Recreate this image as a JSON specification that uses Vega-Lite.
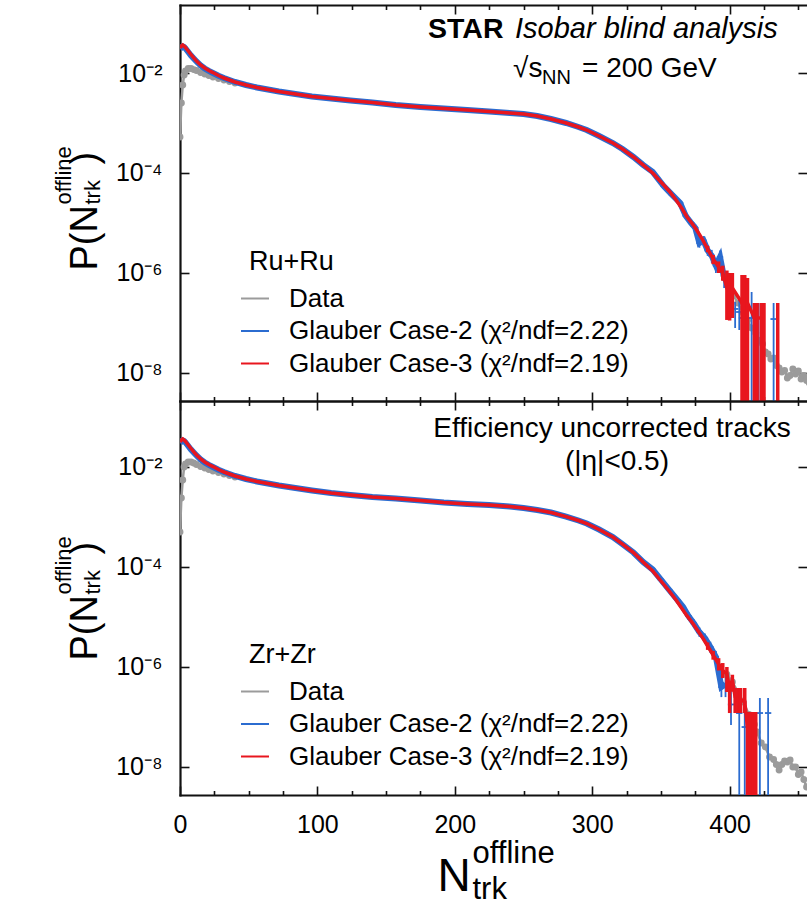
{
  "$schema": "https://vega.github.io/schema/vega-lite/v6.json",
  "background": "white",
  "padding": {"left": 0, "top": 4, "right": 0, "bottom": 0},
  "bounds": "flush",
  "spacing": 0,
  "datasets": {
    "ru_data": [
      {"n":0,"v":5.25e-4},{"n":1,"v":2.51e-3},{"n":2,"v":5.75e-3},{"n":3,"v":9.12e-3},{"n":4,"v":1.10e-2},{"n":6,"v":1.23e-2},{"n":8,"v":1.23e-2},{"n":10,"v":1.17e-2},{"n":12,"v":1.12e-2},{"n":15,"v":1.02e-2},{"n":18,"v":9.55e-3},{"n":21,"v":8.91e-3},{"n":24,"v":8.32e-3},{"n":28,"v":7.76e-3},{"n":32,"v":7.24e-3},{"n":36,"v":6.76e-3},{"n":40,"v":6.31e-3},{"n":48,"v":5.75e-3},
      {"n":56,"v":5.13e-3},{"n":64,"v":4.68e-3},{"n":72,"v":4.27e-3},{"n":84,"v":3.80e-3},{"n":96,"v":3.39e-3},{"n":110,"v":3.09e-3},{"n":124,"v":2.82e-3},{"n":140,"v":2.57e-3},{"n":157,"v":2.29e-3},{"n":175,"v":2.09e-3},{"n":192,"v":1.95e-3},{"n":209,"v":1.82e-3},{"n":225,"v":1.70e-3},{"n":240,"v":1.58e-3},{"n":250,"v":1.51e-3},{"n":260,"v":1.38e-3},{"n":270,"v":1.20e-3},{"n":281,"v":1.0e-3},{"n":290,"v":8.32e-4},{"n":296,"v":7.24e-4},{"n":305,"v":5.50e-4},{"n":315,"v":3.98e-4},{"n":322,"v":3.02e-4},{"n":330,"v":2.09e-4},{"n":337,"v":1.45e-4},{"n":344,"v":1.0e-4},{"n":350,"v":6.61e-5},{"n":356,"v":4.37e-5},{"n":361,"v":2.88e-5},{"n":365,"v":2.0e-5},{"n":369,"v":1.32e-5},{"n":373,"v":9.55e-6},{"n":376,"v":7.24e-6},{"n":380,"v":4.79e-6},{"n":384,"v":3.02e-6},{"n":388,"v":1.91e-6},{"n":392,"v":1.32e-6},
      {"n":396,"v":8.91e-7},{"n":400,"v":5.01e-7},{"n":403,"v":3.55e-7},{"n":406,"v":2.51e-7},{"n":410,"v":1.58e-7},{"n":413,"v":1.12e-7},{"n":416,"v":7.94e-8},{"n":419,"v":6.31e-8},{"n":422,"v":4.47e-8},{"n":424,"v":3.80e-8},{"n":426,"v":2.63e-8},{"n":428,"v":2.40e-8},{"n":430,"v":1.91e-8},{"n":432,"v":2.0e-8},{"n":434,"v":1.41e-8},{"n":436,"v":1.26e-8},{"n":438,"v":1.05e-8},{"n":440,"v":1.12e-8},{"n":442,"v":7.94e-9},{"n":444,"v":8.91e-9},{"n":446,"v":1.2e-8},{"n":448,"v":9.55e-9},{"n":450,"v":1.10e-8},{"n":452,"v":7.59e-9},{"n":454,"v":8.91e-9},{"n":456,"v":7.08e-9},{"n":458,"v":6.3e-9}
    ],
    "ru_c2": [
      {"n":0,"v":3.02e-2},{"n":1,"v":3.24e-2},{"n":2,"v":3.39e-2},{"n":3,"v":3.31e-2},{"n":4,"v":3.09e-2},{"n":6,"v":2.63e-2},{"n":8,"v":2.24e-2},{"n":10,"v":1.95e-2},{"n":12,"v":1.70e-2},{"n":15,"v":1.42e-2},{"n":18,"v":1.23e-2},{"n":21,"v":1.10e-2},{"n":24,"v":1.0e-2},{"n":28,"v":8.8e-3},
      {"n":32,"v":7.94e-3},{"n":36,"v":7.24e-3},{"n":40,"v":6.61e-3},{"n":48,"v":5.75e-3},{"n":56,"v":5.13e-3},{"n":64,"v":4.68e-3},{"n":72,"v":4.27e-3},{"n":84,"v":3.80e-3},{"n":96,"v":3.39e-3},{"n":110,"v":3.09e-3},{"n":124,"v":2.82e-3},{"n":140,"v":2.57e-3},{"n":157,"v":2.29e-3},{"n":175,"v":2.09e-3},{"n":192,"v":1.95e-3},{"n":209,"v":1.82e-3},{"n":225,"v":1.70e-3},{"n":240,"v":1.58e-3},{"n":250,"v":1.51e-3},{"n":260,"v":1.38e-3},{"n":270,"v":1.20e-3},{"n":281,"v":1.0e-3},{"n":290,"v":8.32e-4},{"n":296,"v":7.24e-4},{"n":305,"v":5.50e-4},{"n":315,"v":3.98e-4},{"n":322,"v":3.02e-4},{"n":330,"v":2.09e-4},{"n":337,"v":1.45e-4},
      {"n":344,"v":1.05e-4,"lo":9.5e-5,"hi":1.15e-4},{"n":352,"v":5.5e-5,"lo":4.9e-5,"hi":6.1e-5},{"n":358,"v":3.7e-5,"lo":3.2e-5,"hi":4.2e-5},{"n":364,"v":2.51e-5,"lo":2.2e-5,"hi":2.9e-5},{"n":368,"v":1.4e-5,"lo":1.2e-5,"hi":1.65e-5},{"n":372,"v":1.0e-5,"lo":8.5e-6,"hi":1.2e-5},{"n":375,"v":8.0e-6,"lo":6.6e-6,"hi":9.6e-6},{"n":378,"v":3.98e-6,"lo":3.2e-6,"hi":5.0e-6},{"n":381,"v":4.47e-6,"lo":3.6e-6,"hi":5.5e-6},{"n":384,"v":2.82e-6,"lo":2.2e-6,"hi":3.6e-6},{"n":387,"v":2.2e-6,"lo":1.6e-6,"hi":2.9e-6},{"n":390,"v":1.41e-6,"lo":1.0e-6,"hi":1.9e-6},{"n":393,"v":2.09e-6,"lo":1.41e-6,"hi":2.82e-6},{"n":396,"v":7.94e-7,"lo":5e-7,"hi":1.15e-6},{"n":399,"v":6.31e-7,"lo":3.8e-7,"hi":9e-7},{"n":404,"v":1.91e-7,"lo":7.94e-8,"hi":2.63e-7},{"n":407,"v":1.66e-7,"lo":7.24e-8,"hi":3.31e-7},{"n":409,"v":1.26e-7,"lo":1e-10,"hi":4.17e-7},{"n":416,"v":1.26e-7,"lo":1e-10,"hi":4.17e-7},{"n":421,"v":1.26e-7,"lo":1e-10,"hi":2.51e-7},{"n":432,"v":1.2e-7,"lo":1e-10,"hi":2.51e-7}
    ],
    "ru_c3": [
      {"n":0,"v":3.16e-2},{"n":1,"v":3.47e-2},{"n":2,"v":3.63e-2},{"n":3,"v":3.47e-2},{"n":4,"v":3.24e-2},{"n":6,"v":2.75e-2},{"n":8,"v":2.34e-2},{"n":10,"v":2.0e-2},{"n":12,"v":1.74e-2},{"n":15,"v":1.45e-2},{"n":18,"v":1.26e-2},{"n":21,"v":1.12e-2},{"n":24,"v":1.02e-2},{"n":28,"v":8.91e-3},{"n":32,"v":7.94e-3},{"n":36,"v":7.24e-3},{"n":40,"v":6.61e-3},{"n":48,"v":5.75e-3},
      {"n":56,"v":5.13e-3},{"n":64,"v":4.68e-3},{"n":72,"v":4.27e-3},{"n":84,"v":3.80e-3},{"n":96,"v":3.39e-3},{"n":110,"v":3.09e-3},{"n":124,"v":2.82e-3},{"n":140,"v":2.57e-3},{"n":157,"v":2.29e-3},{"n":175,"v":2.09e-3},{"n":192,"v":1.95e-3},{"n":209,"v":1.82e-3},{"n":225,"v":1.70e-3},{"n":240,"v":1.58e-3},{"n":250,"v":1.51e-3},{"n":260,"v":1.38e-3},{"n":270,"v":1.20e-3},{"n":281,"v":1.0e-3},{"n":290,"v":8.32e-4},{"n":296,"v":7.24e-4},{"n":305,"v":5.50e-4},{"n":315,"v":3.98e-4},{"n":322,"v":3.02e-4},{"n":330,"v":2.09e-4},{"n":337,"v":1.45e-4},{"n":344,"v":1.0e-4},{"n":350,"v":6.61e-5},{"n":356,"v":4.37e-5},{"n":361,"v":2.88e-5},{"n":365,"v":2.0e-5},{"n":369,"v":1.32e-5},{"n":373,"v":9.55e-6},{"n":376,"v":7.24e-6},{"n":380,"v":4.79e-6},
      {"n":384,"v":3.02e-6,"lo":2.6e-6,"hi":3.5e-6},{"n":388,"v":1.91e-6,"lo":1.5e-6,"hi":2.3e-6},{"n":392,"v":1.32e-6,"lo":1.0e-6,"hi":1.7e-6},{"n":395,"v":1.0e-6,"lo":7e-7,"hi":1.4e-6},{"n":398,"v":5.01e-7,"lo":1.15e-7,"hi":1.12e-6},{"n":400,"v":3.98e-7,"lo":1.12e-7,"hi":1.0e-6},{"n":402,"v":5.01e-7,"lo":1.26e-7,"hi":1.0e-6},{"n":409,"v":2.51e-7,"lo":1e-10,"hi":9.12e-7},{"n":411,"v":2.51e-7,"lo":1e-10,"hi":9.12e-7},{"n":413,"v":2.51e-7,"lo":1e-10,"hi":7.94e-7},{"n":418,"v":1.26e-7,"lo":1e-10,"hi":2.51e-7},{"n":420,"v":1.26e-7,"lo":1e-10,"hi":2.51e-7},{"n":423,"v":1.26e-7,"lo":1e-10,"hi":2.51e-7},{"n":425,"v":1.26e-7,"lo":1e-10,"hi":2.51e-7},{"n":435,"v":1.26e-7,"lo":1e-10,"hi":2.51e-7}
    ],
    "zr_data": [
      {"n":0,"v":5.01e-4},{"n":1,"v":2.40e-3},{"n":2,"v":5.50e-3},{"n":3,"v":1.0e-2},{"n":4,"v":1.15e-2},{"n":6,"v":1.26e-2},{"n":8,"v":1.26e-2},{"n":10,"v":1.20e-2},{"n":12,"v":1.12e-2},{"n":15,"v":1.02e-2},{"n":18,"v":9.55e-3},{"n":21,"v":8.91e-3},{"n":24,"v":8.32e-3},{"n":28,"v":7.76e-3},{"n":32,"v":7.24e-3},{"n":36,"v":6.76e-3},{"n":40,"v":6.31e-3},{"n":48,"v":5.75e-3},
      {"n":56,"v":5.13e-3},{"n":64,"v":4.68e-3},{"n":72,"v":4.27e-3},{"n":84,"v":3.80e-3},{"n":96,"v":3.39e-3},{"n":110,"v":3.02e-3},{"n":124,"v":2.75e-3},{"n":140,"v":2.51e-3},{"n":157,"v":2.34e-3},{"n":175,"v":2.14e-3},{"n":192,"v":1.95e-3},{"n":209,"v":1.82e-3},{"n":225,"v":1.74e-3},{"n":240,"v":1.62e-3},{"n":250,"v":1.51e-3},{"n":260,"v":1.38e-3},{"n":270,"v":1.23e-3},{"n":281,"v":1.02e-3},{"n":290,"v":8.51e-4},{"n":296,"v":7.41e-4},{"n":305,"v":5.62e-4},{"n":315,"v":3.98e-4},{"n":322,"v":2.88e-4},{"n":330,"v":1.95e-4},{"n":337,"v":1.26e-4},{"n":344,"v":8.32e-5},{"n":350,"v":5.25e-5},{"n":356,"v":3.31e-5},{"n":361,"v":2.19e-5},{"n":365,"v":1.51e-5},{"n":369,"v":1.05e-5},{"n":373,"v":7.59e-6},{"n":376,"v":5.75e-6},{"n":380,"v":3.98e-6},{"n":384,"v":2.63e-6},{"n":388,"v":1.74e-6},{"n":392,"v":1.15e-6},{"n":395,"v":8.51e-7},
      {"n":398,"v":7.08e-7},{"n":402,"v":5.01e-7},{"n":406,"v":3.16e-7},{"n":410,"v":2.0e-7},{"n":414,"v":1.12e-7},{"n":418,"v":7.08e-8},{"n":420,"v":5.01e-8},{"n":423,"v":3.02e-8},{"n":426,"v":2.51e-8},{"n":429,"v":1.58e-8},{"n":432,"v":1.41e-8},{"n":434,"v":1.12e-8},{"n":436,"v":8.71e-9},{"n":438,"v":1.12e-8},{"n":440,"v":1.32e-8},{"n":442,"v":1.26e-8},{"n":444,"v":1.38e-8},{"n":446,"v":1.0e-8},{"n":448,"v":1.0e-8},{"n":450,"v":7.08e-9},{"n":452,"v":7.94e-9},{"n":454,"v":5.62e-9},{"n":456,"v":3.98e-9},{"n":458,"v":3.98e-9}
    ],
    "zr_c2": [
      {"n":0,"v":3.02e-2},{"n":1,"v":3.24e-2},{"n":2,"v":3.39e-2},{"n":3,"v":3.31e-2},{"n":4,"v":3.09e-2},{"n":6,"v":2.63e-2},{"n":8,"v":2.24e-2},{"n":10,"v":1.95e-2},{"n":12,"v":1.70e-2},{"n":15,"v":1.42e-2},{"n":18,"v":1.23e-2},{"n":21,"v":1.10e-2},{"n":24,"v":1.0e-2},{"n":28,"v":8.8e-3},
      {"n":32,"v":7.94e-3},{"n":36,"v":7.24e-3},{"n":40,"v":6.61e-3},{"n":48,"v":5.75e-3},{"n":56,"v":5.13e-3},{"n":64,"v":4.68e-3},{"n":72,"v":4.27e-3},{"n":84,"v":3.80e-3},{"n":96,"v":3.39e-3},{"n":110,"v":3.02e-3},{"n":124,"v":2.75e-3},{"n":140,"v":2.51e-3},{"n":157,"v":2.34e-3},{"n":175,"v":2.14e-3},{"n":192,"v":1.95e-3},{"n":209,"v":1.82e-3},{"n":225,"v":1.74e-3},{"n":240,"v":1.62e-3},{"n":250,"v":1.51e-3},{"n":260,"v":1.38e-3},{"n":270,"v":1.23e-3},{"n":281,"v":1.02e-3},{"n":290,"v":8.51e-4},{"n":296,"v":7.41e-4},{"n":305,"v":5.62e-4},{"n":315,"v":3.98e-4},{"n":322,"v":2.88e-4},{"n":330,"v":1.95e-4},{"n":337,"v":1.26e-4},
      {"n":344,"v":8.9e-5,"lo":8.2e-5,"hi":9.6e-5},{"n":350,"v":5.6e-5,"lo":5.1e-5,"hi":6.1e-5},{"n":356,"v":3.5e-5,"lo":3.1e-5,"hi":3.9e-5},{"n":362,"v":2.2e-5,"lo":1.9e-5,"hi":2.5e-5},{"n":366,"v":1.6e-5,"lo":1.35e-5,"hi":1.85e-5},{"n":370,"v":1.05e-5,"lo":8.8e-6,"hi":1.25e-5},{"n":374,"v":7.4e-6,"lo":6.0e-6,"hi":8.9e-6},{"n":378,"v":5.0e-6,"lo":4.0e-6,"hi":6.2e-6},{"n":382,"v":3.8e-6,"lo":3.0e-6,"hi":4.7e-6},{"n":386,"v":2.5e-6,"lo":1.9e-6,"hi":3.2e-6},{"n":390,"v":1.58e-6,"lo":1.2e-6,"hi":2.1e-6},{"n":394,"v":3.98e-7,"lo":2.5e-7,"hi":5.5e-7},{"n":397,"v":4.5e-7,"lo":2.5e-7,"hi":6.3e-7},{"n":401,"v":1.78e-7,"lo":6.9e-8,"hi":3.98e-7},{"n":407,"v":1.2e-7,"lo":1e-10,"hi":2.0e-7},{"n":411,"v":6.3e-8,"lo":1e-10,"hi":1.26e-7},{"n":422,"v":1.2e-7,"lo":1e-10,"hi":2.4e-7},{"n":428,"v":1.2e-7,"lo":1e-10,"hi":2.4e-7}
    ],
    "zr_c3": [
      {"n":0,"v":3.16e-2},{"n":1,"v":3.47e-2},{"n":2,"v":3.63e-2},{"n":3,"v":3.47e-2},{"n":4,"v":3.24e-2},{"n":6,"v":2.75e-2},{"n":8,"v":2.34e-2},{"n":10,"v":2.0e-2},{"n":12,"v":1.74e-2},{"n":15,"v":1.45e-2},{"n":18,"v":1.26e-2},{"n":21,"v":1.12e-2},{"n":24,"v":1.02e-2},{"n":28,"v":8.91e-3},{"n":32,"v":7.94e-3},{"n":36,"v":7.24e-3},{"n":40,"v":6.61e-3},{"n":48,"v":5.75e-3},
      {"n":56,"v":5.13e-3},{"n":64,"v":4.68e-3},{"n":72,"v":4.27e-3},{"n":84,"v":3.80e-3},{"n":96,"v":3.39e-3},{"n":110,"v":3.02e-3},{"n":124,"v":2.75e-3},{"n":140,"v":2.51e-3},{"n":157,"v":2.34e-3},{"n":175,"v":2.14e-3},{"n":192,"v":1.95e-3},{"n":209,"v":1.82e-3},{"n":225,"v":1.74e-3},{"n":240,"v":1.62e-3},{"n":250,"v":1.51e-3},{"n":260,"v":1.38e-3},{"n":270,"v":1.23e-3},{"n":281,"v":1.02e-3},{"n":290,"v":8.51e-4},{"n":296,"v":7.41e-4},{"n":305,"v":5.62e-4},{"n":315,"v":3.98e-4},{"n":322,"v":2.88e-4},{"n":330,"v":1.95e-4},{"n":337,"v":1.26e-4},{"n":344,"v":8.32e-5},{"n":350,"v":5.25e-5},{"n":356,"v":3.31e-5},{"n":361,"v":2.19e-5},{"n":365,"v":1.51e-5},{"n":369,"v":1.05e-5},{"n":373,"v":7.59e-6},{"n":376,"v":5.75e-6},{"n":380,"v":3.98e-6},
      {"n":384,"v":2.63e-6,"lo":2.2e-6,"hi":3.1e-6},{"n":388,"v":1.74e-6,"lo":1.4e-6,"hi":2.1e-6},{"n":392,"v":1.15e-6,"lo":8.5e-7,"hi":1.5e-6},{"n":395,"v":8.51e-7,"lo":6e-7,"hi":1.2e-6},{"n":398,"v":7.24e-7,"lo":3.16e-7,"hi":1.0e-6},{"n":400,"v":3.8e-7,"lo":1.2e-7,"hi":5.0e-7},{"n":402,"v":5.5e-7,"lo":3.2e-7,"hi":7.0e-7},{"n":404,"v":2.51e-7,"lo":1.2e-7,"hi":3.8e-7},{"n":406,"v":2.0e-7,"lo":1.2e-7,"hi":3.8e-7},{"n":408,"v":2.24e-7,"lo":1.2e-7,"hi":3.8e-7},{"n":411,"v":2.0e-7,"lo":1.2e-7,"hi":3.8e-7},{"n":413,"v":6.31e-8,"lo":1e-10,"hi":1.26e-7},{"n":415,"v":6.31e-8,"lo":1e-10,"hi":1.26e-7},{"n":417,"v":6.31e-8,"lo":1e-10,"hi":1.26e-7},{"n":419,"v":6.31e-8,"lo":1e-10,"hi":1.26e-7}
    ]
  },
  "vconcat": [
    {
      "width": 627,
      "height": 396,
      "resolve": {"axis": {"x": "independent", "y": "independent"}},
      "layer": [
        {
          "data": {"name": "ru_data"},
          "mark": {"type": "line", "strokeWidth": 2.5, "clip": true},
          "encoding": {
            "x": {"field": "n", "type": "quantitative", "scale": {"domain": [0, 456.3], "nice": false, "zero": false},
                  "axis": {"orient": "bottom", "values": [0, 100, 200, 300, 400], "tickSize": -9, "labels": false, "domain": true, "title": null}},
            "y": {"field": "v", "type": "quantitative", "scale": {"type": "log", "domain": [2.754e-9, 0.2291], "nice": false},
                  "axis": {"orient": "left", "values": [0.01, 0.0001, 0.000001, 1e-8], "tickSize": -9, "labelPadding": 27, "domain": true,
                           "labelExpr": "datum.value > 1e-3 ? '10⁻²' : datum.value > 1e-5 ? '10⁻⁴' : datum.value > 1e-7 ? '10⁻⁶' : '10⁻⁸'",
                           "title": "P(N", "titleX": -84, "titleY": 265, "titleAngle": -90, "titleAlign": "left", "titleBaseline": "alphabetic", "titleFontSize": 38}},
            "color": {"datum": "Data", "type": "nominal",
                      "scale": {"domain": ["Data", "Glauber Case-2 (χ²/ndf=2.22)", "Glauber Case-3 (χ²/ndf=2.19)"], "range": ["#9b9b9b", "#2b6cd0", "#e8161e"]},
                      "legend": {"title": "Ru+Ru", "orient": "none", "legendX": 69, "legendY": 244}}
          }
        },
        {
          "data": {"name": "ru_data"},
          "transform": [{"filter": "datum.n < 48 || datum.n > 395"}],
          "mark": {"type": "circle", "size": 48, "color": "#9b9b9b", "opacity": 1, "clip": true},
          "encoding": {
            "x": {"field": "n", "type": "quantitative", "scale": {"domain": [0, 456.3], "nice": false, "zero": false},
                  "axis": {"orient": "bottom", "values": [25, 50, 75, 125, 150, 175, 225, 250, 275, 325, 350, 375, 425, 450], "tickSize": -4.5, "labels": false, "domain": false, "title": null}},
            "y": {"field": "v", "type": "quantitative", "scale": {"type": "log", "domain": [2.754e-9, 0.2291], "nice": false},
                  "axis": {"orient": "right", "values": [0.01, 0.0001, 0.000001, 1e-8], "tickSize": -9, "labels": false, "domain": false, "title": null}}
          }
        },
        {
          "data": {"name": "ru_c2"},
          "transform": [{"filter": "datum.n <= 400"}],
          "mark": {"type": "line", "strokeWidth": 6, "clip": true},
          "encoding": {
            "x": {"field": "n", "type": "quantitative", "scale": {"domain": [0, 456.3], "nice": false, "zero": false},
                  "axis": {"orient": "top", "values": [0, 100, 200, 300, 400], "tickSize": -9, "labels": false, "domain": true, "title": null}},
            "y": {"field": "v", "type": "quantitative", "scale": {"type": "log", "domain": [2.754e-9, 0.2291], "nice": false},
                  "axis": {"orient": "left", "ticks": false, "labels": false, "domain": false, "title": "offline", "titleX": -110, "titleY": 199, "titleAngle": -90, "titleAlign": "left", "titleBaseline": "alphabetic", "titleFontSize": 22}},
            "color": {"datum": "Glauber Case-2 (χ²/ndf=2.22)", "type": "nominal",
                      "legend": {"title": "Ru+Ru", "orient": "none", "legendX": 69, "legendY": 244}}
          }
        },
        {
          "data": {"name": "ru_c2"},
          "transform": [{"filter": "isValid(datum.lo)"}],
          "mark": {"type": "rule", "color": "#2b6cd0", "strokeWidth": 1.8, "clip": true},
          "encoding": {
            "x": {"field": "n", "type": "quantitative", "scale": {"domain": [0, 456.3], "nice": false, "zero": false},
                  "axis": {"orient": "top", "values": [25, 50, 75, 125, 150, 175, 225, 250, 275, 325, 350, 375, 425, 450], "tickSize": -4.5, "labels": false, "domain": false, "title": null}},
            "y": {"field": "lo", "type": "quantitative", "scale": {"type": "log", "domain": [2.754e-9, 0.2291], "nice": false},
                  "axis": {"orient": "left", "ticks": false, "labels": false, "domain": false, "title": "trk", "titleX": -81, "titleY": 199, "titleAngle": -90, "titleAlign": "left", "titleBaseline": "alphabetic", "titleFontSize": 22}},
            "y2": {"field": "hi"}
          }
        },
        {
          "data": {"name": "ru_c2"},
          "transform": [{"filter": "isValid(datum.lo)"}],
          "mark": {"type": "point", "shape": "M-1,0L1,0", "size": 40, "filled": false, "color": "#2b6cd0", "strokeWidth": 1.8, "opacity": 1, "clip": true},
          "encoding": {
            "x": {"field": "n", "type": "quantitative", "scale": {"domain": [0, 456.3], "nice": false, "zero": false}, "axis": null},
            "y": {"field": "v", "type": "quantitative", "scale": {"type": "log", "domain": [2.754e-9, 0.2291], "nice": false},
                  "axis": {"orient": "left", "ticks": false, "labels": false, "domain": false, "title": ")", "titleX": -84, "titleY": 159, "titleAngle": -90, "titleAlign": "left", "titleBaseline": "alphabetic", "titleFontSize": 38}}
          }
        },
        {
          "data": {"name": "ru_c3"},
          "transform": [{"filter": "datum.n <= 425"}],
          "mark": {"type": "line", "strokeWidth": 3.5, "clip": true},
          "encoding": {
            "x": {"field": "n", "type": "quantitative", "scale": {"domain": [0, 456.3], "nice": false, "zero": false}, "axis": null},
            "y": {"field": "v", "type": "quantitative", "scale": {"type": "log", "domain": [2.754e-9, 0.2291], "nice": false},
                  "axis": {"orient": "left", "ticks": false, "labels": false, "domain": false, "title": " ", "titleX": -180, "titleY": 0, "titleAngle": 0, "titleAlign": "left", "titleBaseline": "top", "titleFontSize": 10}},
            "color": {"datum": "Glauber Case-3 (χ²/ndf=2.19)", "type": "nominal",
                      "legend": {"title": "Ru+Ru", "orient": "none", "legendX": 69, "legendY": 244}}
          }
        },
        {
          "data": {"name": "ru_c3"},
          "transform": [{"filter": "isValid(datum.lo)"}],
          "mark": {"type": "rule", "color": "#e8161e", "strokeWidth": 3.5, "clip": true},
          "encoding": {
            "x": {"field": "n", "type": "quantitative", "scale": {"domain": [0, 456.3], "nice": false, "zero": false}, "axis": null},
            "y": {"field": "lo", "type": "quantitative", "scale": {"type": "log", "domain": [2.754e-9, 0.2291], "nice": false}, "axis": null},
            "y2": {"field": "hi"}
          }
        },
        {
          "data": {"values": [{}]},
          "mark": {"type": "text", "text": "STAR", "fontSize": 28.5, "fontWeight": "bold", "align": "left", "baseline": "alphabetic"},
          "encoding": {
            "x": {"datum": 180.5, "type": "quantitative", "scale": {"domain": [0, 456.3], "nice": false, "zero": false}, "axis": null},
            "y": {"datum": 0.0501, "type": "quantitative", "scale": {"type": "log", "domain": [2.754e-9, 0.2291], "nice": false}, "axis": null}
          }
        },
        {
          "data": {"values": [{}]},
          "mark": {"type": "text", "text": "Isobar blind analysis", "fontSize": 29, "fontStyle": "italic", "align": "left", "baseline": "alphabetic"},
          "encoding": {
            "x": {"datum": 243.8, "type": "quantitative", "scale": {"domain": [0, 456.3], "nice": false, "zero": false}, "axis": null},
            "y": {"datum": 0.0501, "type": "quantitative", "scale": {"type": "log", "domain": [2.754e-9, 0.2291], "nice": false}, "axis": null}
          }
        },
        {
          "data": {"values": [{}]},
          "mark": {"type": "text", "text": "√s", "fontSize": 28, "align": "left", "baseline": "alphabetic"},
          "encoding": {
            "x": {"datum": 242.4, "type": "quantitative", "scale": {"domain": [0, 456.3], "nice": false, "zero": false}, "axis": null},
            "y": {"datum": 0.00832, "type": "quantitative", "scale": {"type": "log", "domain": [2.754e-9, 0.2291], "nice": false}, "axis": null}
          }
        },
        {
          "data": {"values": [{}]},
          "mark": {"type": "text", "text": "NN", "fontSize": 20, "align": "left", "baseline": "alphabetic"},
          "encoding": {
            "x": {"datum": 263.5, "type": "quantitative", "scale": {"domain": [0, 456.3], "nice": false, "zero": false}, "axis": null},
            "y": {"datum": 0.00603, "type": "quantitative", "scale": {"type": "log", "domain": [2.754e-9, 0.2291], "nice": false}, "axis": null}
          }
        },
        {
          "data": {"values": [{}]},
          "mark": {"type": "text", "text": "= 200 GeV", "fontSize": 28, "align": "left", "baseline": "alphabetic"},
          "encoding": {
            "x": {"datum": 292.6, "type": "quantitative", "scale": {"domain": [0, 456.3], "nice": false, "zero": false}, "axis": null},
            "y": {"datum": 0.00832, "type": "quantitative", "scale": {"type": "log", "domain": [2.754e-9, 0.2291], "nice": false}, "axis": null}
          }
        }
      ]
    },
    {
      "width": 627,
      "height": 394,
      "resolve": {"axis": {"x": "independent", "y": "independent"}},
      "layer": [
        {
          "data": {"name": "zr_data"},
          "mark": {"type": "line", "strokeWidth": 2.5, "clip": true},
          "encoding": {
            "x": {"field": "n", "type": "quantitative", "scale": {"domain": [0, 456.3], "nice": false, "zero": false},
                  "axis": {"orient": "bottom", "values": [0, 100, 200, 300, 400], "tickSize": -9, "labels": true, "labelPadding": 26, "domain": true,
                           "title": "N", "titleX": 257, "titleY": 95, "titleAngle": 0, "titleAlign": "left", "titleBaseline": "alphabetic", "titleFontSize": 46}},
            "y": {"field": "v", "type": "quantitative", "scale": {"type": "log", "domain": [2.754e-9, 0.2089], "nice": false},
                  "axis": {"orient": "left", "values": [0.01, 0.0001, 0.000001, 1e-8], "tickSize": -9, "labelPadding": 27, "domain": true,
                           "labelExpr": "datum.value > 1e-3 ? '10⁻²' : datum.value > 1e-5 ? '10⁻⁴' : datum.value > 1e-7 ? '10⁻⁶' : '10⁻⁸'",
                           "title": "P(N", "titleX": -84, "titleY": 259, "titleAngle": -90, "titleAlign": "left", "titleBaseline": "alphabetic", "titleFontSize": 38}},
            "color": {"datum": "Data", "type": "nominal",
                      "scale": {"domain": ["Data", "Glauber Case-2 (χ²/ndf=2.22)", "Glauber Case-3 (χ²/ndf=2.19)"], "range": ["#9b9b9b", "#2b6cd0", "#e8161e"]},
                      "legend": {"title": "Zr+Zr", "orient": "none", "legendX": 69, "legendY": 241}}
          }
        },
        {
          "data": {"name": "zr_data"},
          "transform": [{"filter": "datum.n < 48 || datum.n > 395"}],
          "mark": {"type": "circle", "size": 48, "color": "#9b9b9b", "opacity": 1, "clip": true},
          "encoding": {
            "x": {"field": "n", "type": "quantitative", "scale": {"domain": [0, 456.3], "nice": false, "zero": false},
                  "axis": {"orient": "bottom", "values": [25, 50, 75, 125, 150, 175, 225, 250, 275, 325, 350, 375, 425, 450], "tickSize": -4.5, "labels": false, "domain": false,
                           "title": "offline", "titleX": 292, "titleY": 67, "titleAngle": 0, "titleAlign": "left", "titleBaseline": "alphabetic", "titleFontSize": 31}},
            "y": {"field": "v", "type": "quantitative", "scale": {"type": "log", "domain": [2.754e-9, 0.2089], "nice": false},
                  "axis": {"orient": "right", "values": [0.01, 0.0001, 0.000001, 1e-8], "tickSize": -9, "labels": false, "domain": false, "title": null}}
          }
        },
        {
          "data": {"name": "zr_c2"},
          "transform": [{"filter": "datum.n <= 400"}],
          "mark": {"type": "line", "strokeWidth": 6, "clip": true},
          "encoding": {
            "x": {"field": "n", "type": "quantitative", "scale": {"domain": [0, 456.3], "nice": false, "zero": false},
                  "axis": {"orient": "top", "values": [0, 100, 200, 300, 400], "tickSize": -9, "labels": false, "domain": true, "title": null}},
            "y": {"field": "v", "type": "quantitative", "scale": {"type": "log", "domain": [2.754e-9, 0.2089], "nice": false},
                  "axis": {"orient": "left", "ticks": false, "labels": false, "domain": false, "title": "offline", "titleX": -110, "titleY": 193, "titleAngle": -90, "titleAlign": "left", "titleBaseline": "alphabetic", "titleFontSize": 22}},
            "color": {"datum": "Glauber Case-2 (χ²/ndf=2.22)", "type": "nominal",
                      "legend": {"title": "Zr+Zr", "orient": "none", "legendX": 69, "legendY": 241}}
          }
        },
        {
          "data": {"name": "zr_c2"},
          "transform": [{"filter": "isValid(datum.lo)"}],
          "mark": {"type": "rule", "color": "#2b6cd0", "strokeWidth": 1.8, "clip": true},
          "encoding": {
            "x": {"field": "n", "type": "quantitative", "scale": {"domain": [0, 456.3], "nice": false, "zero": false},
                  "axis": {"orient": "top", "values": [25, 50, 75, 125, 150, 175, 225, 250, 275, 325, 350, 375, 425, 450], "tickSize": -4.5, "labels": false, "domain": false, "title": null}},
            "y": {"field": "lo", "type": "quantitative", "scale": {"type": "log", "domain": [2.754e-9, 0.2089], "nice": false},
                  "axis": {"orient": "left", "ticks": false, "labels": false, "domain": false, "title": "trk", "titleX": -81, "titleY": 193, "titleAngle": -90, "titleAlign": "left", "titleBaseline": "alphabetic", "titleFontSize": 22}},
            "y2": {"field": "hi"}
          }
        },
        {
          "data": {"name": "zr_c2"},
          "transform": [{"filter": "isValid(datum.lo)"}],
          "mark": {"type": "point", "shape": "M-1,0L1,0", "size": 40, "filled": false, "color": "#2b6cd0", "strokeWidth": 1.8, "opacity": 1, "clip": true},
          "encoding": {
            "x": {"field": "n", "type": "quantitative", "scale": {"domain": [0, 456.3], "nice": false, "zero": false},
                  "axis": {"orient": "bottom", "ticks": false, "labels": false, "domain": false,
                           "title": "trk", "titleX": 292, "titleY": 103, "titleAngle": 0, "titleAlign": "left", "titleBaseline": "alphabetic", "titleFontSize": 31}},
            "y": {"field": "v", "type": "quantitative", "scale": {"type": "log", "domain": [2.754e-9, 0.2089], "nice": false},
                  "axis": {"orient": "left", "ticks": false, "labels": false, "domain": false, "title": ")", "titleX": -84, "titleY": 153, "titleAngle": -90, "titleAlign": "left", "titleBaseline": "alphabetic", "titleFontSize": 38}}
          }
        },
        {
          "data": {"name": "zr_c3"},
          "mark": {"type": "line", "strokeWidth": 3.5, "clip": true},
          "encoding": {
            "x": {"field": "n", "type": "quantitative", "scale": {"domain": [0, 456.3], "nice": false, "zero": false}, "axis": null},
            "y": {"field": "v", "type": "quantitative", "scale": {"type": "log", "domain": [2.754e-9, 0.2089], "nice": false}, "axis": null},
            "color": {"datum": "Glauber Case-3 (χ²/ndf=2.19)", "type": "nominal",
                      "legend": {"title": "Zr+Zr", "orient": "none", "legendX": 69, "legendY": 241}}
          }
        },
        {
          "data": {"name": "zr_c3"},
          "transform": [{"filter": "isValid(datum.lo)"}],
          "mark": {"type": "rule", "color": "#e8161e", "strokeWidth": 3.5, "clip": true},
          "encoding": {
            "x": {"field": "n", "type": "quantitative", "scale": {"domain": [0, 456.3], "nice": false, "zero": false}, "axis": null},
            "y": {"field": "lo", "type": "quantitative", "scale": {"type": "log", "domain": [2.754e-9, 0.2089], "nice": false}, "axis": null},
            "y2": {"field": "hi"}
          }
        },
        {
          "data": {"values": [{}]},
          "mark": {"type": "text", "text": "Efficiency uncorrected tracks", "fontSize": 28, "align": "center", "baseline": "alphabetic"},
          "encoding": {
            "x": {"datum": 314.4, "type": "quantitative", "scale": {"domain": [0, 456.3], "nice": false, "zero": false}, "axis": null},
            "y": {"datum": 0.0398, "type": "quantitative", "scale": {"type": "log", "domain": [2.754e-9, 0.2089], "nice": false}, "axis": null}
          }
        },
        {
          "data": {"values": [{}]},
          "mark": {"type": "text", "text": "(|η|<0.5)", "fontSize": 28, "align": "center", "baseline": "alphabetic"},
          "encoding": {
            "x": {"datum": 318, "type": "quantitative", "scale": {"domain": [0, 456.3], "nice": false, "zero": false}, "axis": null},
            "y": {"datum": 0.00871, "type": "quantitative", "scale": {"type": "log", "domain": [2.754e-9, 0.2089], "nice": false}, "axis": null}
          }
        }
      ]
    }
  ],
  "resolve": {"legend": {"color": "independent"}},
  "config": {
    "font": "Liberation Sans",
    "view": {"stroke": null},
    "axis": {
      "grid": false, "domainColor": "#111", "domainWidth": 2.2, "domainCap": "square", "tickColor": "#111", "tickWidth": 1.6,
      "labelFont": "Liberation Sans", "labelFontSize": 25, "labelColor": "#000", "labelFlush": false,
      "titleFont": "Liberation Sans", "titleFontWeight": "normal", "titleColor": "#000", "minExtent": 0, "maxExtent": 400
    },
    "legend": {
      "titleFont": "Liberation Sans", "titleFontSize": 27, "titleFontWeight": "normal", "titleColor": "#000",
      "labelFont": "Liberation Sans", "labelFontSize": 26, "labelColor": "#000", "labelLimit": 0,
      "symbolType": "stroke", "symbolSize": 784, "symbolStrokeWidth": 2, "symbolOffset": -9,
      "labelOffset": 19, "rowPadding": 4.5, "titlePadding": 7.5, "padding": 0
    },
    "text": {"font": "Liberation Sans", "color": "#000"}
  }
}
